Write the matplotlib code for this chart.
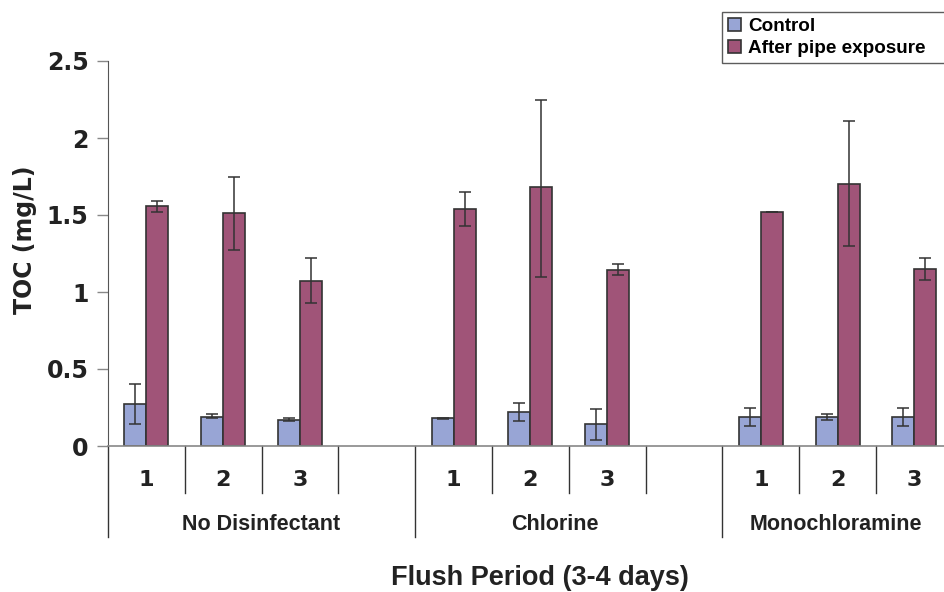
import matplotlib
matplotlib.use("Agg")
import matplotlib.pyplot as plt
import matplotlib.transforms as mtransforms
import numpy as np

# valores (TOC, mg/L)
grupos = ['No Disinfectant', 'Chlorine', 'Monochloramine']
periodos = ['1', '2', '3']
posicoes = [0, 1, 2, 4, 5, 6, 8, 9, 10]

controle = [0.27, 0.19, 0.17, 0.18, 0.22, 0.14, 0.19, 0.19, 0.19]
controle_min = [0.14, 0.18, 0.16, 0.175, 0.16, 0.04, 0.13, 0.17, 0.13]
controle_max = [0.40, 0.21, 0.18, 0.185, 0.28, 0.24, 0.25, 0.21, 0.25]

exposicao = [1.56, 1.51, 1.07, 1.54, 1.68, 1.14, 1.52, 1.70, 1.15]
exposicao_min = [1.52, 1.27, 0.93, 1.43, 1.10, 1.11, 1.52, 1.30, 1.08]
exposicao_max = [1.59, 1.75, 1.22, 1.65, 2.25, 1.18, 1.52, 2.11, 1.22]

cor_controle = '#98a5d5'
cor_exposicao = '#a05478'

fig = plt.figure(figsize=(9.44, 5.92), dpi=100)
ax = fig.add_axes([108/944, 1-446/592, 1-108/944, 385/592])

x = np.array(posicoes, dtype=float)
w = 0.286
c = np.array(controle)
e = np.array(exposicao)
err_c = [c - np.array(controle_min), np.array(controle_max) - c]
err_e = [e - np.array(exposicao_min), np.array(exposicao_max) - e]

ax.bar(x - w/2, c, w, color=cor_controle, edgecolor='#333333', linewidth=1.2,
       label='Control', zorder=2)
ax.bar(x + w/2, e, w, color=cor_exposicao, edgecolor='#333333', linewidth=1.2,
       label='After pipe exposure', zorder=2)
ax.errorbar(x - w/2, c, yerr=err_c, fmt='none', ecolor='#333333',
            elinewidth=1.1, capsize=4, capthick=1.1, zorder=3)
ax.errorbar(x + w/2, e, yerr=err_e, fmt='none', ecolor='#333333',
            elinewidth=1.1, capsize=4, capthick=1.1, zorder=3)

ax.set_xlim(-0.5, (944-108)/76.8 - 0.5)
ax.set_ylim(0, 2.5)
ax.set_yticks([0, 0.5, 1, 1.5, 2, 2.5])
ax.set_yticklabels(['0', '0.5', '1', '1.5', '2', '2.5'])
ax.tick_params(axis='y', direction='out', length=8, width=1, color='#888888',
               pad=6, labelsize=17, labelcolor='#222222')
for t in ax.get_yticklabels():
    t.set_fontweight('bold')
ax.set_xticks([])

for s in ['top', 'right']:
    ax.spines[s].set_visible(False)
ax.spines['left'].set_color('#555555')
ax.spines['bottom'].set_color('#888888')
ax.spines['bottom'].set_linewidth(1.2)

# linhas separadoras abaixo do eixo x
trans = mtransforms.blended_transform_factory(ax.transData, ax.transAxes)
curtas = [0.5, 1.5, 2.5, 4.5, 5.5, 6.5, 8.5, 9.5]
longas = [-0.5, 3.5, 7.5]
for xs in curtas:
    ax.plot([xs, xs], [0, -0.122], transform=trans, color='#333333',
            lw=1, clip_on=False)
for xs in longas:
    ax.plot([xs, xs], [0, -0.236], transform=trans, color='#333333',
            lw=1, clip_on=False)

for i, xs in enumerate(posicoes):
    ax.text(xs, -0.088, periodos[i % 3], transform=trans, ha='center',
            va='center', fontsize=16, fontweight='bold', color='#222222')

pos_grupos = [1.49, 5.32, 8.98]
for g, xs in zip(grupos, pos_grupos):
    ax.text(xs, -0.203, g, transform=trans, ha='center', va='center',
            fontsize=15.5, fontweight='bold', color='#222222',
            family='Liberation Sans')

fig.text(540/944, 1-578/592, 'Flush Period (3-4 days)', ha='center',
         va='center', fontsize=19.5, fontweight='bold', color='#222222',
         family='Liberation Sans')
fig.text(25/944, 1-240/592, 'TOC (mg/L)', rotation=90, ha='center',
         va='center', fontsize=17, fontweight='bold', color='#222222')

leg = fig.legend(loc='upper left', bbox_to_anchor=(722/944, 1-12/592, 240/944, 0),
                 bbox_transform=fig.transFigure, mode='expand', frameon=True,
                 fancybox=False, handlelength=0.7, handleheight=0.7,
                 handletextpad=0.4, borderpad=0.3, labelspacing=0.25,
                 borderaxespad=0,
                 prop={'family': 'Liberation Sans', 'weight': 'bold',
                       'size': 13.6})
leg.get_frame().set_edgecolor('#333333')
leg.get_frame().set_linewidth(1)

fig.savefig('out.png', dpi=100)
